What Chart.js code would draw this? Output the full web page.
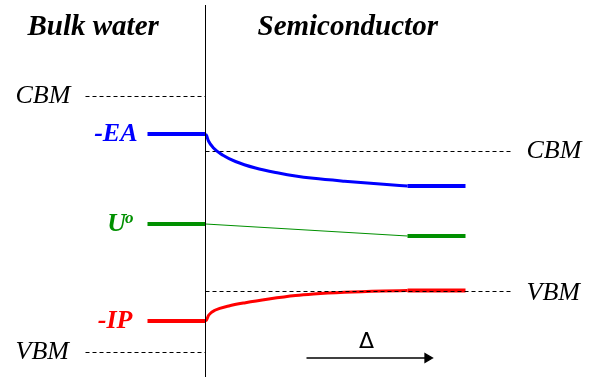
<!DOCTYPE html>
<html>
<head>
<meta charset="utf-8">
<script src="https://cdn.jsdelivr.net/npm/chart.js@4"></script>
<style>
  body { margin: 0; background: #fff; }
  canvas { display: block; }
</style>
</head>
<body>
<canvas id="canvasOne" width="599" height="377"></canvas>
<script>
// distance from the interface (x) and energy (y), arbitrary units
var interfaceTop = 7.44;
var waterLevelX = [-2.9, 0];
var semiLevelX = [10.1, 13.0];
var waterDashX = [-6.0, 0];
var semiDashX = [0, 15.35];

var waterCBM = 5.61;
var waterVBM = 0.49;
var semiCBM = 4.51;
var semiVBM = 1.71;

var eaWater = 4.86;
var eaSemi = 3.82;
var uWater = 3.06;
var uSemi = 2.82;
var ipWater = 1.12;
var ipSemi = 1.73;

// band bending inside the semiconductor
var blueX = [0, 0.05, 0.15, 0.4, 0.85, 1.5, 2.5, 3.65, 4.5, 5.4, 6.95, 8.9, 10.1];
var blueE = [4.86, 4.83, 4.72, 4.58, 4.44, 4.31, 4.18, 4.08, 4.02, 3.974, 3.916, 3.854, 3.82];
var redX = [0, 0.05, 0.165, 0.5, 1.165, 2.0, 3.165, 4.5, 5.4, 6.95, 8.9, 10.1];
var redE = [1.12, 1.14, 1.24, 1.34, 1.42, 1.486, 1.56, 1.63, 1.66, 1.694, 1.72, 1.73];

var arrowX = [5.05, 11.1];
var arrowE = 0.38;

var BLUE = '#0000ff';
var GREEN = '#009000';
var RED = '#ff0000';

function pts(xs, ys) {
  return xs.map(function(x, i) {
    return { x: x, y: Array.isArray(ys) ? ys[i] : ys };
  });
}

function seg(data, color, width, dash) {
  return {
    data: data,
    borderColor: color,
    borderWidth: width,
    borderDash: dash || [],
    pointRadius: 0,
    showLine: true,
    fill: false,
    clip: false,
    borderCapStyle: 'butt'
  };
}

var blueCurve = seg(pts(blueX, blueE), BLUE, 3);
blueCurve.cubicInterpolationMode = 'monotone';
var redCurve = seg(pts(redX, redE), RED, 3);
redCurve.cubicInterpolationMode = 'monotone';

var arrow = seg(pts(arrowX, arrowE), '#000', 1.3);
arrow.pointStyle = 'triangle';
arrow.pointRotation = 90;
arrow.pointRadius = [0, 5];
arrow.pointBackgroundColor = '#000';
arrow.pointBorderColor = '#000';

var serifI = 'italic 26px "Liberation Serif"';
var serifBI = 'italic bold 26px "Liberation Serif"';
var labels = [
  { text: 'Bulk water', x: -8.9, y: 6.84, font: 'italic bold 29px "Liberation Serif"', color: '#000', align: 'left', base: 'alphabetic' },
  { text: 'Semiconductor', x: 2.6, y: 6.84, font: 'italic bold 29px "Liberation Serif"', color: '#000', align: 'left', base: 'alphabetic' },
  { text: 'CBM', x: -9.5, y: waterCBM, font: serifI, color: '#000', align: 'left', base: 'middle' },
  { text: 'VBM', x: -9.5, y: waterVBM, font: serifI, color: '#000', align: 'left', base: 'middle' },
  { text: 'CBM', x: 16.05, y: semiCBM, font: serifI, color: '#000', align: 'left', base: 'middle' },
  { text: 'VBM', x: 16.05, y: semiVBM - 0.03, font: serifI, color: '#000', align: 'left', base: 'middle' },
  { text: '-EA', x: -3.4, y: eaWater, font: serifBI, color: BLUE, align: 'right', base: 'middle' },
  { text: '-IP', x: -3.65, y: ipWater, font: serifBI, color: RED, align: 'right', base: 'middle' },
  { text: 'Δ', x: 8.05, y: 0.7, font: '22px "DejaVu Sans"', color: '#000', align: 'center', base: 'middle' }
];

var textPlugin = {
  id: 'texts',
  afterDraw: function(chart) {
    var c = chart.ctx, sx = chart.scales.x, sy = chart.scales.y;
    c.save();
    labels.forEach(function(l) {
      c.font = l.font;
      c.fillStyle = l.color;
      c.textAlign = l.align;
      c.textBaseline = l.base;
      c.fillText(l.text, sx.getPixelForValue(l.x), sy.getPixelForValue(l.y));
    });
    // U with superscript o
    var ux = sx.getPixelForValue(-3.6), uy = sy.getPixelForValue(uWater);
    c.fillStyle = GREEN;
    c.textBaseline = 'middle';
    c.font = 'italic bold 17px "Liberation Serif"';
    c.textAlign = 'right';
    var ow = c.measureText('o').width;
    c.fillText('o', ux, uy - 5);
    c.font = serifBI;
    c.fillText('U', ux - ow + 1, uy);
    c.restore();
  }
};

var ctx = document.getElementById('canvasOne').getContext('2d');
var config = {
  type: 'scatter',
  data: {
    datasets: [
      seg(pts([0, 0], [0, interfaceTop]), '#000', 1),
      seg(pts(semiDashX, semiVBM), '#000', 1, [4, 3]),
      seg(pts(waterDashX, waterCBM), '#000', 1, [4, 3]),
      seg(pts(waterDashX, waterVBM), '#000', 1, [4, 3]),
      blueCurve,
      redCurve,
      seg(pts(waterLevelX, eaWater), BLUE, 4),
      seg(pts(semiLevelX, eaSemi), BLUE, 4),
      seg(pts([0, semiLevelX[0]], [uWater, uSemi]), GREEN, 1.2),
      seg(pts(waterLevelX, uWater), GREEN, 4),
      seg(pts(semiLevelX, uSemi), GREEN, 4),
      seg(pts(waterLevelX, ipWater), RED, 4),
      seg(pts(semiLevelX, ipSemi), RED, 4),
      seg(pts(semiDashX, semiCBM), '#000', 1, [4, 3]),
      arrow
    ]
  },
  options: {
    responsive: false,
    animation: false,
    layout: { padding: 0, autoPadding: false },
    plugins: { legend: { display: false }, tooltip: { enabled: false } },
    scales: {
      x: { type: 'linear', min: -10.275, max: 19.675, display: false },
      y: { type: 'linear', min: 0, max: 7.54, display: false }
    }
  },
  plugins: [textPlugin]
};

var chart = new Chart(ctx, config);
</script>
</body>
</html>
